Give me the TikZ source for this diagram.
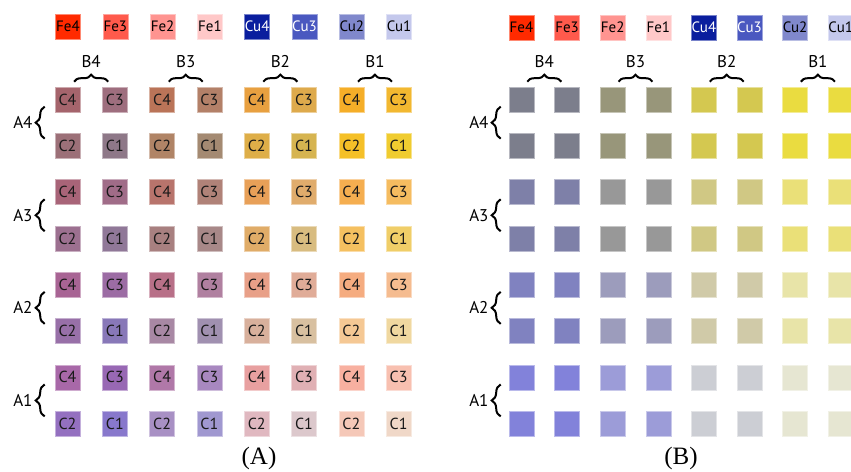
\documentclass[tikz,border=0pt]{standalone}
\usepackage{fontspec}
\setmainfont{PT Sans}
\newfontfamily\capfont{Liberation Serif}
\usetikzlibrary{decorations.pathreplacing,calc}
\def\dc#1#2{\definecolor{#1}{HTML}{#2}}
% panel A colours: A<row><col>
\dc{A00}{A5646C}\dc{A01}{9E6E7E}\dc{A02}{BA7458}\dc{A03}{B38068}\dc{A04}{E8A040}\dc{A05}{DEAA4C}\dc{A06}{F5AE28}\dc{A07}{F2B830}
\dc{A10}{9C7078}\dc{A11}{8E7888}\dc{A12}{B08466}\dc{A13}{A48A72}\dc{A14}{DEAE48}\dc{A15}{D6B450}\dc{A16}{F5C028}\dc{A17}{F0CC30}
\dc{A20}{A86478}\dc{A21}{A06C88}\dc{A22}{B8746C}\dc{A23}{B08278}\dc{A24}{E8A058}\dc{A25}{E0AC6C}\dc{A26}{F5AE50}\dc{A27}{F5BC60}
\dc{A30}{9C7090}\dc{A31}{907898}\dc{A32}{A88080}\dc{A33}{A88888}\dc{A34}{E0AC68}\dc{A35}{D8BC80}\dc{A36}{F5C060}\dc{A37}{F0CE68}
\dc{A40}{A86494}\dc{A41}{9C6CA4}\dc{A42}{B87088}\dc{A43}{B080A0}\dc{A44}{E8A088}\dc{A45}{E0AC98}\dc{A46}{F5AC80}\dc{A47}{F5BC90}
\dc{A50}{9870A8}\dc{A51}{8878B8}\dc{A52}{A888A4}\dc{A53}{A090B0}\dc{A54}{D8B09C}\dc{A55}{D8C0A0}\dc{A56}{F5C894}\dc{A57}{F0D8A0}
\dc{A60}{A868A8}\dc{A61}{9868B4}\dc{A62}{B078A8}\dc{A63}{A888C0}\dc{A64}{E8A0A0}\dc{A65}{E0B0B4}\dc{A66}{F8B0A0}\dc{A67}{F8C0B0}
\dc{A70}{9470C0}\dc{A71}{8878CC}\dc{A72}{A890C4}\dc{A73}{A098D0}\dc{A74}{E0B8C0}\dc{A75}{DCC8CC}\dc{A76}{F5C8B8}\dc{A77}{F0D8C8}
% panel B colours: B<blockrow><blockcol>
\dc{B00}{7C7E8C}\dc{B01}{98967A}\dc{B02}{D4C850}\dc{B03}{EADC40}
\dc{B10}{7E80A8}\dc{B11}{989898}\dc{B12}{D0C884}\dc{B13}{EAE078}
\dc{B20}{8082C0}\dc{B21}{9C9CBC}\dc{B22}{D0CAA8}\dc{B23}{E8E4A8}
\dc{B30}{8282DA}\dc{B31}{9C9CD8}\dc{B32}{CCCED4}\dc{B33}{E6E6D2}
% legend
\dc{L0}{FF2A00}\dc{L1}{FF5A4C}\dc{L2}{FF9490}\dc{L3}{FFC8C8}
\dc{L4}{0A1E9E}\dc{L5}{4A58C0}\dc{L6}{8088CC}\dc{L7}{C4C8EC}
\begin{document}
\begin{tikzpicture}[x=1pt,y=-1pt,
  sq/.style={minimum size=25pt,inner sep=0pt,fill=#1,draw=#1!55!white,line width=0.6pt,
    font=\fontsize{16}{16}\selectfont,text=black!90},
  hbrace/.style={decorate,decoration={brace,amplitude=7pt},line width=2pt},
  vbrace/.style={decorate,decoration={brace,amplitude=9pt},line width=2pt},
  grp/.style={inner sep=0pt,font=\fontsize{17}{17}\selectfont},
  captxt/.style={inner sep=0pt,font=\capfont\fontsize{25}{25}\selectfont}]
\clip (0,0) rectangle (851,471);
\fill[white] (0,0) rectangle (851,471);
% legends
\foreach \n/\t/\tc [count=\k from 0] in {L0/Fe4/black,L1/Fe3/black,L2/Fe2/black,L3/Fe1/black,L4/Cu4/white,L5/Cu3/white,L6/Cu2/black,L7/Cu1/black}{
  \node[sq=\n,text=\tc,font=\fontsize{15}{15}\selectfont] (la\k) at ({68+47.3*\k},26.5) {\t};
  \node[sq=\n,text=\tc,font=\fontsize{15}{15}\selectfont] (lb\k) at ({521.5+45.6*\k},27.5) {\t};
}
% panel A squares
\foreach \rr in {0,...,7}{
  \foreach \cc in {0,...,7}{
    \pgfmathtruncatemacro\lab{4-2*mod(\rr,2)-mod(\cc,2)}
    \pgfmathtruncatemacro\br{int(\rr/2)}
    \pgfmathtruncatemacro\bc{int(\cc/2)}
    \node[sq=A\rr\cc] (a\rr\cc) at ({67.5+47.3*\cc},{99.5+46.3*\rr}) {C\lab};
    \node[sq=B\br\bc] (b\rr\cc) at ({521.5+45.6*\cc},{99.5+46.3*\rr}) {};
  }
}
% column group braces
\foreach \k in {0,...,3}{
  \pgfmathtruncatemacro\ca{2*\k}
  \pgfmathtruncatemacro\cb{2*\k+1}
  \pgfmathtruncatemacro\nb{4-\k}
  \coordinate (haL\k) at ($(a0\ca.north)!0.5!(a0\cb.north)+(-17,-5)$);
  \coordinate (haR\k) at ($(a0\ca.north)!0.5!(a0\cb.north)+(17,-5)$);
  \draw[hbrace] (haL\k) -- (haR\k);
  \node[grp,anchor=south] (gA\k) at ($(haL\k)!0.5!(haR\k)+(0,-14)$) {B\nb};
  \coordinate (hbL\k) at ($(b0\ca.north)!0.5!(b0\cb.north)+(-17,-5)$);
  \coordinate (hbR\k) at ($(b0\ca.north)!0.5!(b0\cb.north)+(17,-5)$);
  \draw[hbrace] (hbL\k) -- (hbR\k);
  \node[grp,anchor=south] (gB\k) at ($(hbL\k)!0.5!(hbR\k)+(0,-14)$) {B\nb};
}
% row group braces
\foreach \k in {0,...,3}{
  \pgfmathtruncatemacro\ra{2*\k}
  \pgfmathtruncatemacro\rb{2*\k+1}
  \pgfmathtruncatemacro\na{4-\k}
  \coordinate (vaT\k) at ($(a\ra0.west)!0.5!(a\rb0.west)+(-10,-16)$);
  \coordinate (vaB\k) at ($(a\ra0.west)!0.5!(a\rb0.west)+(-10,16)$);
  \draw[vbrace] (vaB\k) -- (vaT\k);
  \node[grp,anchor=east] (rA\k) at ($(vaT\k)!0.5!(vaB\k)+(-12,0)$) {A\na};
  \coordinate (vbT\k) at ($(b\ra0.west)!0.5!(b\rb0.west)+(-8,-16)$);
  \coordinate (vbB\k) at ($(b\ra0.west)!0.5!(b\rb0.west)+(-8,16)$);
  \draw[vbrace] (vbB\k) -- (vbT\k);
  \node[grp,anchor=east] (rB\k) at ($(vbT\k)!0.5!(vbB\k)+(-12,0)$) {A\na};
}
\node[captxt] (capA) at (259,458) {(A)};
\node[captxt] (capB) at (681,458) {(B)};
\end{tikzpicture}
\end{document}
